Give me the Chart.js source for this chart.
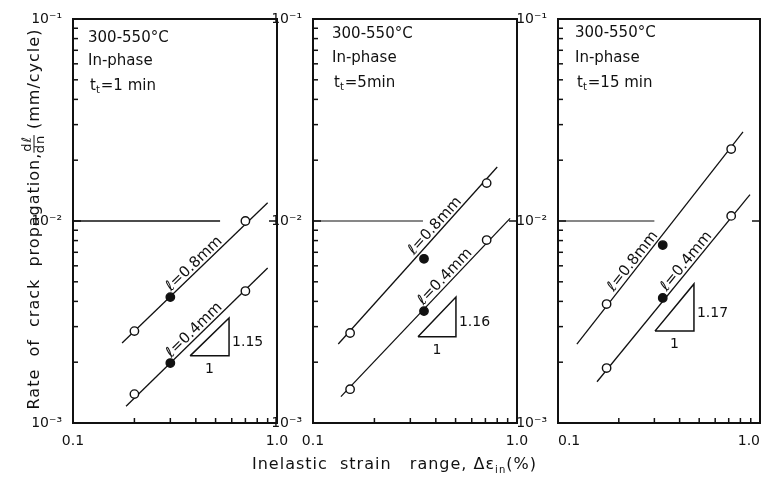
<!DOCTYPE html>
<html>
<head>
<meta charset="utf-8">
<script src="https://cdn.jsdelivr.net/npm/chart.js@4.4.1/dist/chart.umd.min.js"></script>
<style>
  body { margin: 0; background: #fff; }
  #wrap { position: relative; width: 767px; height: 491px; }
  canvas { position: absolute; left: 0; top: 0; }
</style>
</head>
<body>
<div id="wrap">
  <canvas id="c0" width="767" height="491"></canvas>
  <canvas id="c1" width="767" height="491"></canvas>
  <canvas id="c2" width="767" height="491"></canvas>
</div>
<script>
// values (strain range %, crack rate mm/cycle)
const holdTimes = ['1 min', '5min', '15 min'];
const strain = [[0.2, 0.3, 0.7], [0.152, 0.35, 0.71], [0.174, 0.33, 0.72]];
const rate08 = [[2.85e-3, 4.2e-3, 1.0e-2], [2.79e-3, 6.5e-3, 1.54e-2], [3.88e-3, 7.6e-3, 2.27e-2]];
const rate04 = [[1.39e-3, 1.98e-3, 4.5e-3], [1.47e-3, 3.58e-3, 8.05e-3], [1.87e-3, 4.16e-3, 1.06e-2]];
const fillFlags = [false, true, false];

// fitted lines, ends
const fit08X = [[0.174, 0.90], [0.133, 0.80], [0.124, 0.824]];
const fit08Y = [[2.49e-3, 1.23e-2], [2.46e-3, 1.85e-2], [2.46e-3, 2.76e-2]];
const fit04X = [[0.182, 0.90], [0.137, 0.925], [0.156, 0.892]];
const fit04Y = [[1.21e-3, 5.85e-3], [1.35e-3, 1.03e-2], [1.6e-3, 1.35e-2]];
const label08X = [0.415, 0.42, 0.25];
const label04X = [0.415, 0.47, 0.46];

// slope triangles
const slopes = ['1.15', '1.16', '1.17'];
const triX = [[0.375, 0.582], [0.327, 0.502], [0.302, 0.471]];
const triY = [[2.15e-3, 3.31e-3], [2.67e-3, 4.2e-3], [2.85e-3, 4.88e-3]];

// short reference line at 10^-2
const refLevel = 1e-2;
const refEnd = [0.526, 0.346, 0.30];

const xTicks = [0.1, 1];
const xTickLabels = ['0.1', '1.0'];
const yTicks = [1e-3, 1e-2, 1e-1];
const yTickLabels = ['10⁻³', '10⁻²', '10⁻¹'];
const minorSteps = [1, 2, 3, 4, 5, 6, 7, 8, 9];

const areaLeft = [73, 313, 558];
const areaRight = [277, 517, 760];
const areaTop = 19, areaBottom = 423;
const textLeft = [15, 19, 17];
const textBase = [[42, 65, 90], [38, 62, 87], [37, 62, 87]];

const FONT = '"DejaVu Sans", sans-serif';
const INK = '#111';

function logInterp(xs, ys, v) {
  const t = (Math.log10(v) - Math.log10(xs[0])) / (Math.log10(xs[1]) - Math.log10(xs[0]));
  return Math.pow(10, Math.log10(ys[0]) + t * (Math.log10(ys[1]) - Math.log10(ys[0])));
}

function lineLabel(ctx, x, y, xs, ys, lx, text) {
  const px = x.getPixelForValue(lx), py = y.getPixelForValue(logInterp(xs, ys, lx));
  const ang = Math.atan2(y.getPixelForValue(ys[1]) - y.getPixelForValue(ys[0]),
                         x.getPixelForValue(xs[1]) - x.getPixelForValue(xs[0]));
  ctx.save();
  ctx.translate(px, py);
  ctx.rotate(ang);
  ctx.font = '15px ' + FONT;
  ctx.textAlign = 'center';
  ctx.textBaseline = 'alphabetic';
  ctx.fillText(text, 0, -3);
  ctx.restore();
}

const deco = {
  id: 'deco',
  afterDatasetsDraw(chart, args, opts) {
    const i = opts.panel;
    const { ctx, chartArea: a, scales: { x, y } } = chart;
    ctx.save();
    ctx.strokeStyle = INK;
    ctx.fillStyle = INK;
    ctx.lineWidth = 2;
    ctx.strokeRect(a.left, a.top, a.width, a.height);

    // inward ticks
    ctx.lineWidth = 1.5;
    yTicks.slice(0, -1).forEach(d => minorSteps.forEach(m => {
      const py = y.getPixelForValue(d * m);
      const len = m === 1 ? 8 : 5;
      ctx.beginPath(); ctx.moveTo(a.left, py); ctx.lineTo(a.left + len, py); ctx.stroke();
      if (m === 1) { ctx.beginPath(); ctx.moveTo(a.right, py); ctx.lineTo(a.right - len, py); ctx.stroke(); }
    }));
    minorSteps.slice(1).forEach(m => {
      const px = x.getPixelForValue(xTicks[0] * m);
      ctx.beginPath(); ctx.moveTo(px, a.bottom); ctx.lineTo(px, a.bottom - 5); ctx.stroke();
    });

    // panel notes
    const tx = a.left + textLeft[i];
    const tb = textBase[i];
    ctx.font = '15px ' + FONT;
    ctx.textAlign = 'left';
    ctx.textBaseline = 'alphabetic';
    ctx.fillText('300-550°C', tx, tb[0]);
    ctx.fillText('In-phase', tx, tb[1]);
    ctx.fillText('t', tx + 2, tb[2]);
    let w = ctx.measureText('t').width;
    ctx.font = '10px ' + FONT;
    ctx.fillText('t', tx + 2 + w, tb[2] + 3);
    w += ctx.measureText('t').width;
    ctx.font = '15px ' + FONT;
    ctx.fillText('=' + holdTimes[i], tx + 3 + w, tb[2]);

    // curve labels
    lineLabel(ctx, x, y, fit08X[i], fit08Y[i], label08X[i], 'ℓ=0.8mm');
    lineLabel(ctx, x, y, fit04X[i], fit04Y[i], label04X[i], 'ℓ=0.4mm');

    // slope labels
    const rx = x.getPixelForValue(triX[i][1]);
    const lx = x.getPixelForValue(triX[i][0]);
    const by = y.getPixelForValue(triY[i][0]);
    const ty = y.getPixelForValue(triY[i][1]);
    ctx.font = '14px ' + FONT;
    ctx.fillText(slopes[i], rx + 3, (by + ty) / 2 + 9);
    ctx.textAlign = 'center';
    ctx.fillText('1', (lx + rx) / 2, by + 17);

    if (i === 0) {
      // y axis title
      ctx.save();
      ctx.translate(33, 219);
      ctx.rotate(-Math.PI / 2);
      ctx.font = '16px ' + FONT;
      ctx.letterSpacing = '1px';
      const p1 = 'Rate  of  crack  propagation,';
      const p2 = ' (mm/cycle)';
      const w1 = ctx.measureText(p1).width;
      const w3 = ctx.measureText(p2).width;
      ctx.font = '13px ' + FONT;
      const wf = ctx.measureText('dℓ').width + 2;
      const start = -(w1 + wf + w3) / 2;
      ctx.textAlign = 'left';
      ctx.font = '16px ' + FONT;
      ctx.fillText(p1, start, 6);
      ctx.font = '13px ' + FONT;
      ctx.textAlign = 'center';
      ctx.fillText('dℓ', start + w1 + wf / 2, -2);
      ctx.fillText('dn', start + w1 + wf / 2, 11);
      ctx.lineWidth = 1;
      ctx.beginPath(); ctx.moveTo(start + w1, 1); ctx.lineTo(start + w1 + wf, 1); ctx.stroke();
      ctx.textAlign = 'left';
      ctx.font = '16px ' + FONT;
      ctx.fillText(p2, start + w1 + wf, 6);
      ctx.restore();
    }
    if (i === 1) {
      // x axis title
      ctx.font = '16px ' + FONT;
      ctx.letterSpacing = '1px';
      ctx.textAlign = 'left';
      const t1 = 'Inelastic  strain   range, Δε';
      let xx = 252;
      ctx.fillText(t1, xx, 469);
      xx += ctx.measureText(t1).width;
      ctx.font = '10px ' + FONT;
      ctx.fillText('in', xx, 473);
      xx += ctx.measureText('in').width;
      ctx.font = '16px ' + FONT;
      ctx.fillText('(%)', xx, 469);
    }
    ctx.restore();
  }
};

function makePanel(i) {
  const pts = (rates) => strain[i].map((s, k) => ({ x: s, y: rates[k] }));
  const seg = (xs, ys) => xs.map((v, k) => ({ x: v, y: ys[k] }));
  const pointStyle = {
    showLine: false,
    pointRadius: 4.2,
    pointBorderWidth: 1.4,
    pointBorderColor: INK,
    pointBackgroundColor: fillFlags.map(f => f ? INK : '#fff'),
    pointHoverRadius: 4.2
  };
  const lineStyle = { showLine: true, pointRadius: 0, borderColor: INK, borderWidth: 1.3, fill: false };
  const tri = [
    { x: triX[i][0], y: triY[i][0] }, { x: triX[i][1], y: triY[i][0] },
    { x: triX[i][1], y: triY[i][1] }, { x: triX[i][0], y: triY[i][0] }
  ];

  new Chart(document.getElementById('c' + i), {
    type: 'scatter',
    data: {
      datasets: [
        Object.assign({ label: 'l=0.8mm', data: pts(rate08[i]) }, pointStyle),
        Object.assign({ label: 'l=0.4mm', data: pts(rate04[i]) }, pointStyle),
        Object.assign({ label: 'fit 0.8', data: seg(fit08X[i], fit08Y[i]) }, lineStyle),
        Object.assign({ label: 'fit 0.4', data: seg(fit04X[i], fit04Y[i]) }, lineStyle),
        Object.assign({ label: 'slope', data: tri }, lineStyle, { borderWidth: 1.5 }),
        Object.assign({ label: 'ref', data: [{ x: xTicks[0], y: refLevel }, { x: refEnd[i], y: refLevel }] },
          lineStyle, { borderWidth: i === 0 ? 1.6 : 1.1 })
      ]
    },
    options: {
      responsive: false,
      animation: false,
      devicePixelRatio: 1,
      layout: {
        padding: { left: areaLeft[i] - 40, right: 767 - areaRight[i], top: areaTop, bottom: 491 - areaBottom - 30 }
      },
      plugins: {
        legend: { display: false },
        tooltip: { enabled: false },
        deco: { panel: i }
      },
      scales: {
        x: {
          type: 'logarithmic',
          min: 0.1, max: 1,
          grid: { display: false },
          border: { display: false },
          afterBuildTicks: s => { s.ticks = xTicks.map(v => ({ value: v })); },
          afterFit: s => { s.height = 30; s.paddingLeft = 0; s.paddingRight = 0; },
          ticks: {
            color: INK,
            font: { family: FONT, size: 14 },
            padding: 2,
            maxRotation: 0,
            autoSkip: false,
            align: i === 2 ? 'inner' : 'center',
            callback: (v, k) => xTickLabels[k]
          }
        },
        y: {
          type: 'logarithmic',
          min: 1e-3, max: 1e-1,
          grid: { display: false },
          border: { display: false },
          afterBuildTicks: s => { s.ticks = yTicks.map(v => ({ value: v })); },
          afterFit: s => { s.width = 40; s.paddingTop = 0; s.paddingBottom = 0; },
          ticks: {
            color: INK,
            font: { family: FONT, size: 14 },
            padding: 3,
            autoSkip: false,
            callback: (v, k) => yTickLabels[k]
          }
        }
      }
    },
    plugins: [deco]
  });
}

[0, 1, 2].forEach(makePanel);
</script>
</body>
</html>
